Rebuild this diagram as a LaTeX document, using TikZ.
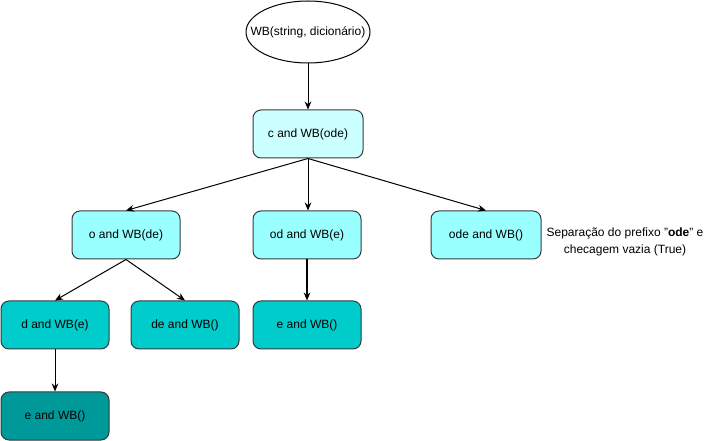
\documentclass[tikz,border=0pt]{standalone}
\usepackage{fontspec}
\setmainfont{Liberation Sans}
\usetikzlibrary{shapes.geometric,arrows.meta}
\definecolor{strokec}{HTML}{36393D}
\definecolor{lvA}{HTML}{CCFFFF}
\definecolor{lvB}{HTML}{99FFFF}
\definecolor{lvC}{HTML}{00CCCC}
\definecolor{lvD}{HTML}{009999}
\tikzset{
  box/.style={draw=strokec, rounded corners=6pt, minimum width=108*0.75pt, minimum height=48*0.75pt, inner sep=0pt, font=\fontsize{9}{11}\selectfont, line width=0.75pt},
  conn/.style={-{Stealth[length=6pt,width=5pt]}, line width=0.75pt},
}
\begin{document}
\begin{tikzpicture}[x=0.75pt,y=-0.75pt]
\useasboundingbox (0,0) rectangle (721,441);
\node[rectangle, minimum width=124*0.75pt, minimum height=62*0.75pt, inner sep=0pt, font=\fontsize{9}{11}\selectfont] (root) at (308,32) {WB(string, dicionário)};
\draw[line width=0.75pt] (root.center) ellipse [x radius=46.5pt, y radius=23.25pt];
\node[box, fill=lvA, minimum width=110*0.75pt] (c) at (308,134) {c and WB(ode)};
\node[box, fill=lvB] (o) at (126,235) {o and WB(de)};
\node[box, fill=lvB] (od) at (307,235) {od and WB(e)};
\node[box, fill=lvB, minimum width=110*0.75pt] (ode) at (486,235) {ode and WB()};
\node[box, fill=lvC] (d) at (55,325) {d and WB(e)};
\node[box, fill=lvC] (de) at (185,325) {de and WB()};
\node[box, fill=lvC] (e1) at (307,325) {e and WB()};
\node[box, fill=lvD] (e2) at (55,416) {e and WB()};
\node[align=center, font=\fontsize{9}{13}\selectfont] (lbl) at (625,242) {Separação do prefixo \symbol{34}\textbf{ode}\symbol{34} e\\checagem vazia (True)};
\draw[conn] (root) -- (c);
\draw[conn] (c.south) -- (o.north);
\draw[conn] (c.south) -- (od.north -| c.south);
\draw[conn] (c.south) -- (ode.north);
\draw[conn] (o.south) -- (d.north);
\draw[conn] (o.south) -- (de.north);
\draw[conn, line width=1.5pt] (od) -- (e1);
\draw[conn] (d) -- (e2);
\end{tikzpicture}
\end{document}
